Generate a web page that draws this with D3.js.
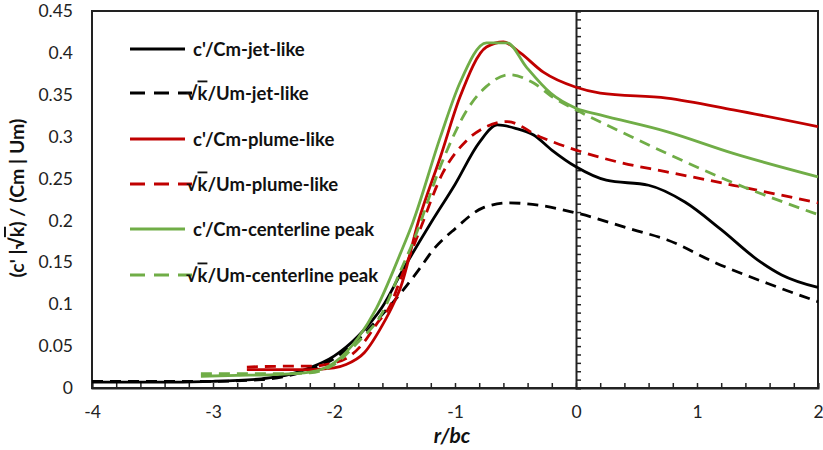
<!DOCTYPE html>
<html><head><meta charset="utf-8">
<script src="https://cdn.jsdelivr.net/npm/d3@7"></script>
<style>
body{margin:0;background:#fff;}
svg text{font-family:Lato,"Open Sans",sans-serif;}
</style></head>
<body><svg id="c" width="823" height="450"></svg>
<script>
// ---- data (r/bc, value) ----
const xTickLabels = [-4,-3,-2,-1,0,1,2];
const yTickLabels = [0,0.05,0.1,0.15,0.2,0.25,0.3,0.35,0.4,0.45];

const jetC = [[-4,0.007],[-3.5,0.007],[-3,0.008],[-2.6,0.011],[-2.4,0.015],[-2.2,0.024],[-2.0,0.038],[-1.8,0.062],[-1.6,0.097],[-1.45,0.136],[-1.2,0.197],[-1.0,0.243],[-0.8,0.293],[-0.65,0.314],[-0.5,0.31],[-0.35,0.302],[-0.2,0.284],[0,0.264],[0.25,0.248],[0.6,0.242],[0.9,0.222],[1.2,0.189],[1.5,0.153],[1.7,0.135],[2,0.12]];
const jetK = [[-4,0.008],[-3.5,0.008],[-3,0.008],[-2.6,0.01],[-2.4,0.014],[-2.2,0.022],[-2.0,0.035],[-1.8,0.058],[-1.6,0.088],[-1.45,0.113],[-1.3,0.141],[-1.18,0.165],[-1.0,0.19],[-0.77,0.215],[-0.55,0.221],[-0.3,0.218],[0,0.209],[0.47,0.189],[0.75,0.177],[1.16,0.149],[1.58,0.125],[2,0.103]];
const plumeC = [[-2.72,0.022],[-2.4,0.022],[-2.2,0.022],[-2.0,0.024],[-1.9,0.028],[-1.75,0.042],[-1.6,0.075],[-1.5,0.103],[-1.45,0.12],[-1.3,0.2],[-1.12,0.276],[-0.96,0.347],[-0.74,0.407],[-0.6,0.413],[-0.46,0.40],[-0.27,0.377],[0,0.359],[0.2,0.352],[0.75,0.346],[1.3,0.332],[2,0.312]];
const plumeK = [[-2.72,0.025],[-2.4,0.026],[-2.2,0.026],[-2.0,0.03],[-1.88,0.037],[-1.75,0.055],[-1.64,0.078],[-1.54,0.097],[-1.45,0.13],[-1.3,0.185],[-1.1,0.257],[-0.9,0.296],[-0.74,0.312],[-0.57,0.318],[-0.3,0.30],[0,0.284],[0.34,0.27],[0.75,0.258],[1.3,0.242],[2,0.221]];
const peakC = [[-3.1,0.014],[-2.8,0.015],[-2.5,0.016],[-2.2,0.019],[-2.0,0.03],[-1.8,0.06],[-1.65,0.095],[-1.45,0.161],[-1.35,0.197],[-1.12,0.30],[-0.96,0.364],[-0.74,0.412],[-0.57,0.412],[-0.41,0.383],[-0.21,0.352],[0,0.334],[0.2,0.326],[0.75,0.306],[1.3,0.28],[2,0.252]];
const peakK = [[-3.1,0.017],[-2.8,0.017],[-2.5,0.017],[-2.2,0.018],[-2.0,0.028],[-1.8,0.055],[-1.6,0.09],[-1.45,0.14],[-1.35,0.173],[-1.1,0.272],[-0.9,0.332],[-0.74,0.36],[-0.55,0.374],[-0.35,0.364],[-0.19,0.347],[0,0.332],[0.34,0.308],[0.75,0.28],[1.3,0.245],[2,0.207]];

const seriesNames = ["c'/Cm-jet-like","k/Um-jet-like","c'/Cm-plume-like","k/Um-plume-like","c'/Cm-centerline peak","k/Um-centerline peak"];
const seriesData = [jetC, jetK, plumeC, plumeK, peakC, peakK];
const seriesColors = ["#000000","#000000","#c00000","#c00000","#70ad47","#70ad47"];
const seriesDashed = [false,true,false,true,false,true];

const svg = d3.select("#c");
const L=92,R=818,T=11,B=388;
const x = d3.scaleLinear().domain([-4,2]).range([L,R]);
const y = d3.scaleLinear().domain([0,0.45]).range([B,T]);

// frame
svg.append("rect").attr("x",L).attr("y",T).attr("width",R-L).attr("height",B-T)
  .attr("fill","none").attr("stroke","#222").attr("stroke-width",2);

// bottom minor ticks (inward)
const gb = svg.append("g").attr("transform",`translate(0,${B})`)
  .call(d3.axisBottom(x).tickValues(d3.range(-40,21,2).map(d=>d/10)).tickSize(-5).tickFormat(""));
gb.select(".domain").attr("stroke","#222").attr("stroke-width",2);
gb.selectAll(".tick line").attr("stroke","#222").attr("stroke-width",1.5);

// x labels
const gxl = svg.append("g").attr("transform",`translate(0,${B})`)
  .call(d3.axisBottom(x).tickValues(xTickLabels).tickSize(0).tickPadding(18).tickFormat(d=>d));
gxl.select(".domain").remove();
gxl.selectAll("text").attr("font-size",17.5).attr("fill","#222").style("font-family","Lato");

// vertical axis at x=0
const g0 = svg.append("g").attr("transform",`translate(${x(0)},0)`)
  .call(d3.axisRight(y).tickValues(d3.range(0,46).map(d=>d/100)).tickSize(5).tickFormat(""));
g0.select(".domain").attr("stroke","#222").attr("stroke-width",2);
g0.selectAll(".tick line").attr("stroke","#222").attr("stroke-width",1.5);

// y labels
const gyl = svg.append("g").attr("transform",`translate(${L},0)`)
  .call(d3.axisLeft(y).tickValues(yTickLabels).tickSize(0).tickPadding(19).tickFormat(d=>String(+d.toFixed(2))));
gyl.select(".domain").remove();
gyl.selectAll("text").attr("font-size",17.5).attr("fill","#222").style("font-family","Lato");

// lines
const line = d3.line().x(d=>x(d[0])).y(d=>y(d[1])).curve(d3.curveMonotoneX);
const clip = svg.append("clipPath").attr("id","pc").append("rect").attr("x",L).attr("y",T).attr("width",R-L+2).attr("height",B-T);
const order=[1,0,3,2,5,4];
order.forEach(i=>{
  svg.append("path").datum(seriesData[i]).attr("d",line)
    .attr("fill","none").attr("stroke",seriesColors[i]).attr("stroke-width",2.8)
    .attr("stroke-dasharray",seriesDashed[i]?"11,7":null).attr("clip-path","url(#pc)");
});

// legend
const legY=[49,93,139,184,229,275];
seriesNames.forEach((n,i)=>{
  const g=svg.append("g");
  g.append("line").attr("x1",130).attr("x2",seriesDashed[i]?192:185).attr("y1",legY[i]).attr("y2",legY[i])
    .attr("stroke",seriesColors[i]).attr("stroke-width",2.8)
    .attr("stroke-dasharray",seriesDashed[i]?"15,9":null);
  const t=g.append("text").attr("x",seriesDashed[i]?186:193).attr("y",legY[i]+6.5)
    .attr("font-size",18.5).attr("font-weight","bold").attr("fill","#111");
  if(seriesDashed[i]){
    t.append("tspan").text("√");
    t.append("tspan").text("k").style("text-decoration","overline");
    t.append("tspan").text(n.slice(1));
  } else t.text(n);
});

// axis titles
const yt = svg.append("text").attr("transform","translate(24,198) rotate(-90)")
  .attr("text-anchor","middle").attr("font-size",19.5).attr("font-weight","bold").attr("fill","#111");
yt.append("tspan").text("(c' |√");
yt.append("tspan").text("k").style("text-decoration","overline");
yt.append("tspan").text(") / (Cm | Um)");

svg.append("text").attr("x",452).attr("y",443).attr("text-anchor","middle")
  .attr("font-size",21).attr("font-weight","bold").attr("font-style","italic").attr("fill","#111").text("r/bc");
</script></body></html>
